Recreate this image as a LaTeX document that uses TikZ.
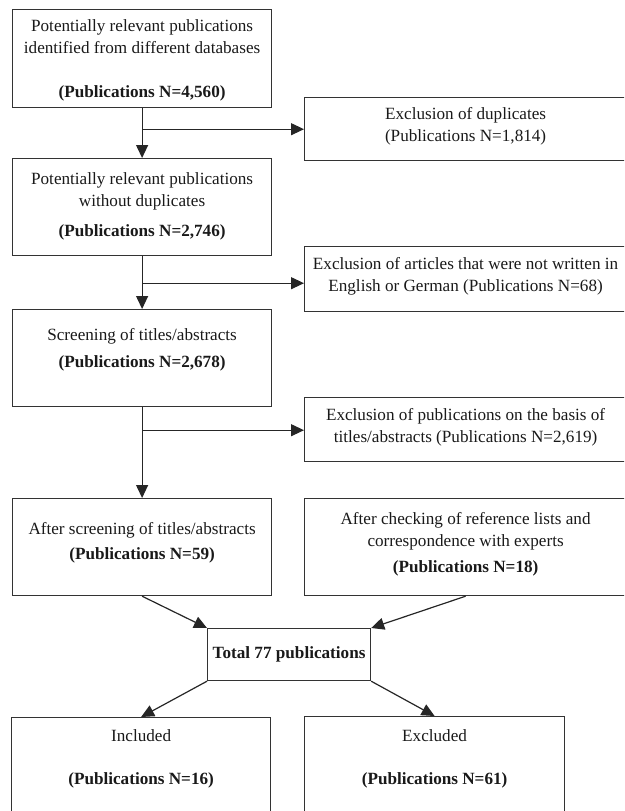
\documentclass[tikz,border=0pt]{standalone}
\usepackage{fontspec}
\setmainfont{Liberation Serif}
\usetikzlibrary{arrows.meta, positioning}

\begin{document}
\begin{tikzpicture}[x=1pt, y=-1pt,
  box/.style={rectangle, draw=black!80, line width=1.2pt, anchor=north west,
              align=center, inner ysep=0pt, inner xsep=2pt,
              font=\fontsize{17.15}{22}\selectfont, text=black!90},
  arr/.style={-{Triangle[length=13pt,width=12pt]}, line width=1.2pt, black!85}
]
  \clip (0,0) rectangle (624,811);
  % main column
  \node[box, minimum width=259pt, text height=88pt, text depth=10pt] (pot) at (12,9)
       {Potentially relevant publications\\identified from different databases\\[22pt]\textbf{(Publications N=4,560)}};
  \node[box, minimum width=259pt, text height=78pt, text depth=19pt] (nodup) at (12,158)
       {Potentially relevant publications\\without duplicates\\[8pt]\textbf{(Publications N=2,746)}};
  \node[box, minimum width=259pt, text height=58pt, text depth=39pt] (scr) at (12,309)
       {Screening of titles/abstracts\\[5pt]\textbf{(Publications N=2,678)}};
  \node[box, minimum width=259pt, text height=61pt, text depth=36pt] (after) at (12,498)
       {After screening of titles/abstracts\\[3pt]\textbf{(Publications N=59)}};
  % exclusions
  \node[box, minimum width=322pt, text height=44pt, text depth=19pt] (dup) at (304,97)
       {Exclusion of duplicates\\(Publications N=1,814)};
  \node[box, minimum width=322pt, text height=45pt, text depth=20pt] (lang) at (304,246)
       {Exclusion of articles that were not written in\\English or German (Publications N=68)};
  \node[box, minimum width=322pt, text height=45pt, text depth=19pt] (tit) at (304,397)
       {Exclusion of publications on the basis of\\titles/abstracts (Publications N=2,619)};
  \node[box, minimum width=322pt, text height=74pt, text depth=23pt] (check) at (304,498)
       {After checking of reference lists and\\correspondence with experts\\[4pt]\textbf{(Publications N=18)}};
  % result
  \node[box, minimum width=163pt, text height=30pt, text depth=22pt] (total) at (207,628)
       {\textbf{Total 77 publications}};
  \node[box, minimum width=259pt, text height=67pt, text depth=56pt] (incl) at (11,717)
       {Included\\[21pt]\textbf{(Publications N=16)}};
  \node[box, minimum width=260pt, text height=68pt, text depth=56pt] (excl) at (304,716)
       {Excluded\\[21pt]\textbf{(Publications N=61)}};

  \coordinate[below=21pt of pot.south] (b1);
  \coordinate[below=27pt of nodup.south] (b2);
  \coordinate[below=23pt of scr.south] (b3);

  \draw[arr] (pot) -- (nodup);
  \draw[arr] (b1) -- (b1 -| dup.west);
  \draw[arr] (nodup) -- (scr);
  \draw[arr] (b2) -- (b2 -| lang.west);
  \draw[arr] (scr) -- (after);
  \draw[arr] (b3) -- (b3 -| tit.west);
  \draw[arr] (after.south) -- (total.north west);
  \draw[arr] (check.south) -- (total.north east);
  \draw[arr] (total.south west) -- (incl.north);
  \draw[arr] (total.south east) -- (excl.north);
\end{tikzpicture}
\end{document}
